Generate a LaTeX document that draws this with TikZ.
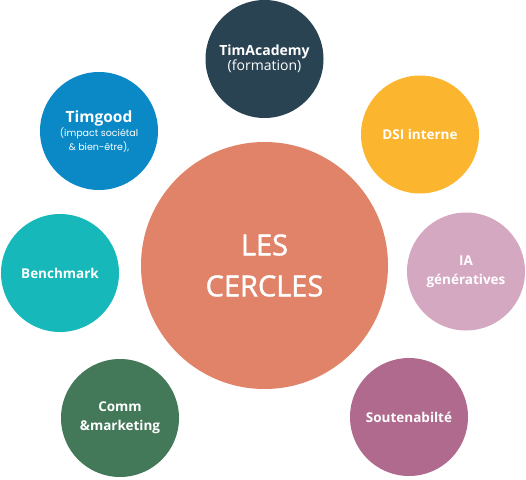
\documentclass[tikz,border=0pt]{standalone}
\usepackage{fontspec}
\setmainfont{Open Sans}
\newfontfamily\poppins{Poppins}
\newfontfamily\titrefont{Open Sans}[FakeBold=1.3]
\usetikzlibrary{positioning}

% couleurs des cercles
\definecolor{centre}{HTML}{E08368}
\definecolor{academy}{HTML}{2A4353}
\definecolor{dsi}{HTML}{FBB52E}
\definecolor{iagen}{HTML}{D5A8C2}
\definecolor{souten}{HTML}{B06A8D}
\definecolor{comm}{HTML}{437959}
\definecolor{bench}{HTML}{17B8BA}
\definecolor{timgood}{HTML}{0A89C6}

\tikzset{
  cercle/.style={circle,inner sep=0pt,minimum size=#1,text=white,align=center,
    font=\bfseries\fontsize{13.5}{19}\selectfont},
  cercle/.default=118pt
}

\begin{document}
\begin{tikzpicture}[x=1pt,y=-1pt]
  \useasboundingbox (0,0) rectangle (526,479);

  % grand cercle au milieu
  \node[cercle=247pt,fill=centre,font=\titrefont\fontsize{29}{41}\selectfont] (cercles) at (264.5,265.5) {LES\\CERCLES};

  % petits cercles autour
  \node[cercle,fill=academy,font=\bfseries\fontsize{14}{15}\selectfont] (academy) at (264.5,59) {TimAcademy\\{\mdseries (formation)}};
  \node[cercle,fill=dsi] (dsi) at (420,134.5) {DSI interne};
  \node[cercle,fill=iagen] (ia) at (466,271.5) {IA\\génératives};
  \node[cercle,fill=souten] (souten) at (409,417) {Soutenabilté};
  \node[cercle,fill=comm] (comm) at (120,418) {Comm\\\&marketing};
  \node[cercle,fill=bench] (bench) at (60,273) {Benchmark};
  \node[cercle,fill=timgood,font=\bfseries\fontsize{15.5}{14}\selectfont] (timgood) at (99,131)
    {Timgood\\{\poppins\mdseries\fontsize{9.5}{14}\selectfont (impact sociétal}\\{\poppins\mdseries\fontsize{9.5}{14}\selectfont \& bien-être),}};
\end{tikzpicture}
\end{document}
